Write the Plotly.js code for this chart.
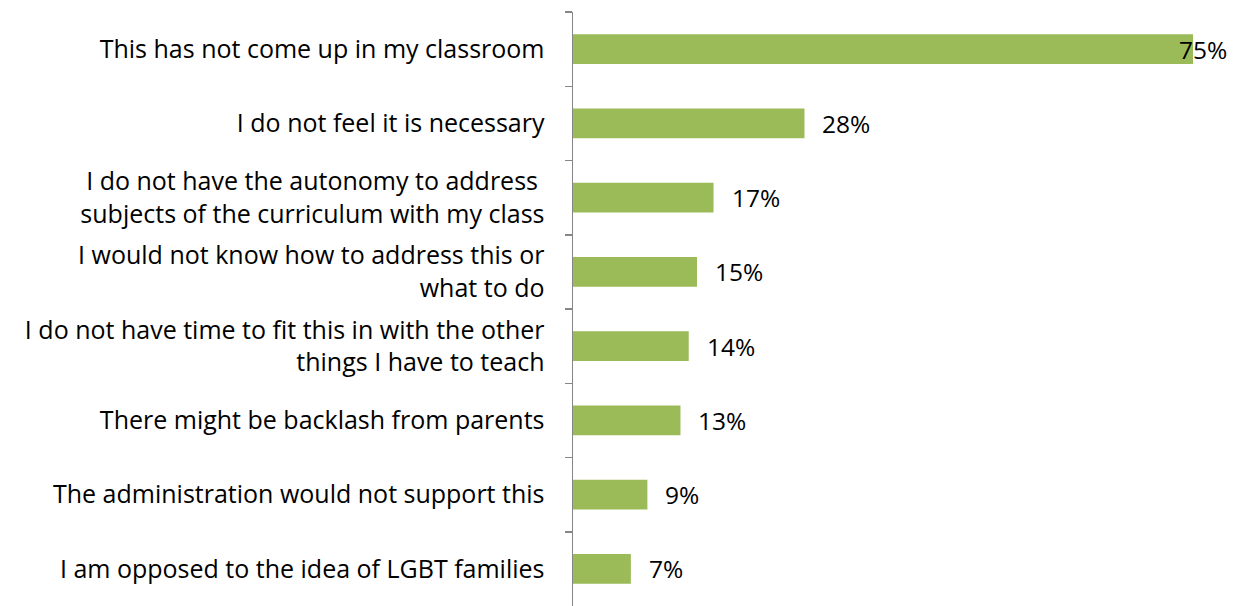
<!DOCTYPE html>
<html><head><meta charset="utf-8">
<script src="https://cdn.plot.ly/plotly-3.0.1.min.js"></script>
<style>html,body{margin:0;padding:0;background:#fff}#c{width:1239px;height:606px}</style>
</head><body><div id="c"></div>
<script>
const categories = [
  "This has not come up in my classroom",
  "I do not feel it is necessary",
  "I do not have the autonomy to address <br>subjects of the curriculum with my class",
  "I would not know how to address this or<br>what to do",
  "I do not have time to fit this in with the other<br>things I have to teach",
  "There might be backlash from parents",
  "The administration would not support this",
  "I am opposed to the idea of LGBT families"
];
const values = [75, 28, 17, 15, 14, 13, 9, 7];
const labels = ["75%", "28%", "17%", "15%", "14%", "13%", "9%", "7%"];

const FONT = "'Open Sans', 'Noto Sans', sans-serif";
const xMax = 75;
const annotations = values.map((v, i) => {
  const atEnd = v >= xMax;
  return {
    x: v, y: categories[i], xref: 'x', yref: 'y',
    text: labels[i], showarrow: false,
    xanchor: atEnd ? 'right' : 'left',
    xshift: atEnd ? 36 : 16,
    font: {family: FONT, size: 24.5, color: '#000'}
  };
});

Plotly.newPlot('c', [{
  type: 'bar', orientation: 'h',
  x: values, y: categories,
  marker: {color: '#9BBB59'},
  hoverinfo: 'none'
}], {
  width: 1239, height: 606,
  margin: {l: 573, r: 46, t: 12, b: 0},
  paper_bgcolor: '#fff', plot_bgcolor: '#fff',
  bargap: 0.6,
  showlegend: false,
  xaxis: {range: [0, xMax], visible: false, fixedrange: true},
  yaxis: {
    autorange: 'reversed', type: 'category',
    showline: true, linecolor: '#868686', linewidth: 1.5,
    ticks: 'outside', tickson: 'boundaries', ticklen: 7, tickcolor: '#868686', tickwidth: 1.5,
    ticklabelstandoff: 22,
    showgrid: false, zeroline: false,
    tickfont: {family: FONT, size: 25, color: '#000'}
  },
  annotations: annotations
}, {staticPlot: true});
</script></body></html>
